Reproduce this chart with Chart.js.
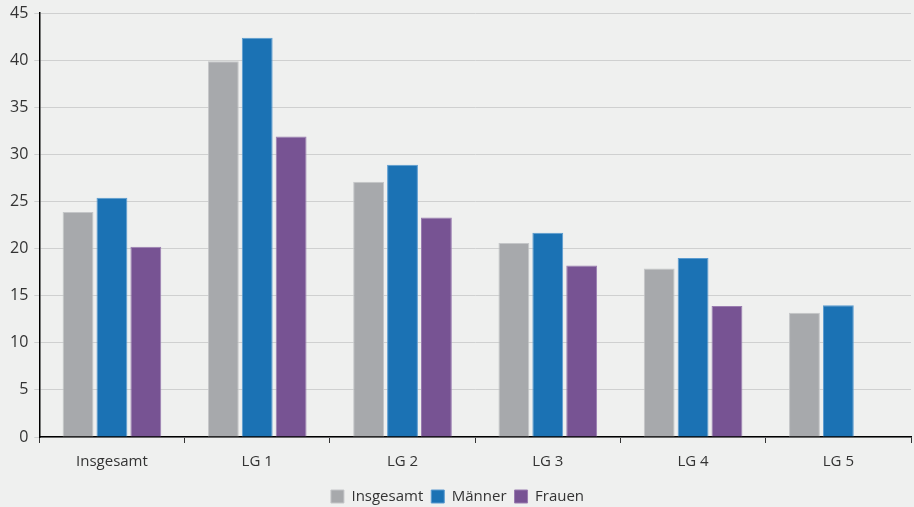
<!DOCTYPE html>
<html>
<head>
<meta charset="utf-8">
<script src="https://cdn.jsdelivr.net/npm/chart.js@4/dist/chart.umd.min.js"></script>
<style>
  html, body { margin: 0; padding: 0; background: #eff0ef; }
  #wrap { width: 914px; height: 507px; }
</style>
</head>
<body>
<div id="wrap"><canvas id="chart"></canvas></div>
<script>
const categories = ["Insgesamt", "LG 1", "LG 2", "LG 3", "LG 4", "LG 5"];
const insgesamt = [23.9, 39.9, 27.1, 20.6, 17.9, 13.2];
const maenner = [25.4, 42.4, 28.9, 21.7, 19.0, 14.0];
const frauen = [20.2, 31.9, 23.3, 18.2, 13.9, null];

const ctx = document.getElementById("chart").getContext("2d");
new Chart(ctx, {
  type: "bar",
  data: {
    labels: categories,
    datasets: [
      { label: "Insgesamt", data: insgesamt, backgroundColor: "#a7a9ac", borderColor: "#c4c6c8", borderWidth: 1 },
      { label: "Männer", data: maenner, backgroundColor: "#1b72b4", borderColor: "#5a9bd0", borderWidth: 1 },
      { label: "Frauen", data: frauen, backgroundColor: "#775393", borderColor: "#9a7db0", borderWidth: 1 },
    ],
  },
  options: {
    responsive: true,
    maintainAspectRatio: false,
    animation: false,
    categoryPercentage: 0.7,
    barPercentage: 0.91,
    layout: { padding: { top: 0, right: 3, left: 4, bottom: -7 } },
    plugins: {
      legend: {
        position: "bottom",
        labels: {
          boxWidth: 13, boxHeight: 13, padding: 8,
          color: "#333", font: { family: "Open Sans", size: 15 },
        },
      },
      tooltip: { enabled: false },
    },
    scales: {
      x: {
        grid: { display: true, drawOnChartArea: false, color: "#333", tickLength: 6, offset: true },
        border: { color: "#000", width: 1.5 },
        ticks: { color: "#333", font: { family: "Open Sans", size: 15 }, padding: 10 },
      },
      y: {
        min: 0, max: 45,
        grid: { color: "#cfd0d0", tickLength: 5 },
        border: { color: "#000", width: 1.5 },
        ticks: { stepSize: 5, color: "#333", font: { family: "Open Sans", size: 16, lineHeight: 0.9 }, padding: 6 },
      },
    },
  },
});
</script>
</body>
</html>
